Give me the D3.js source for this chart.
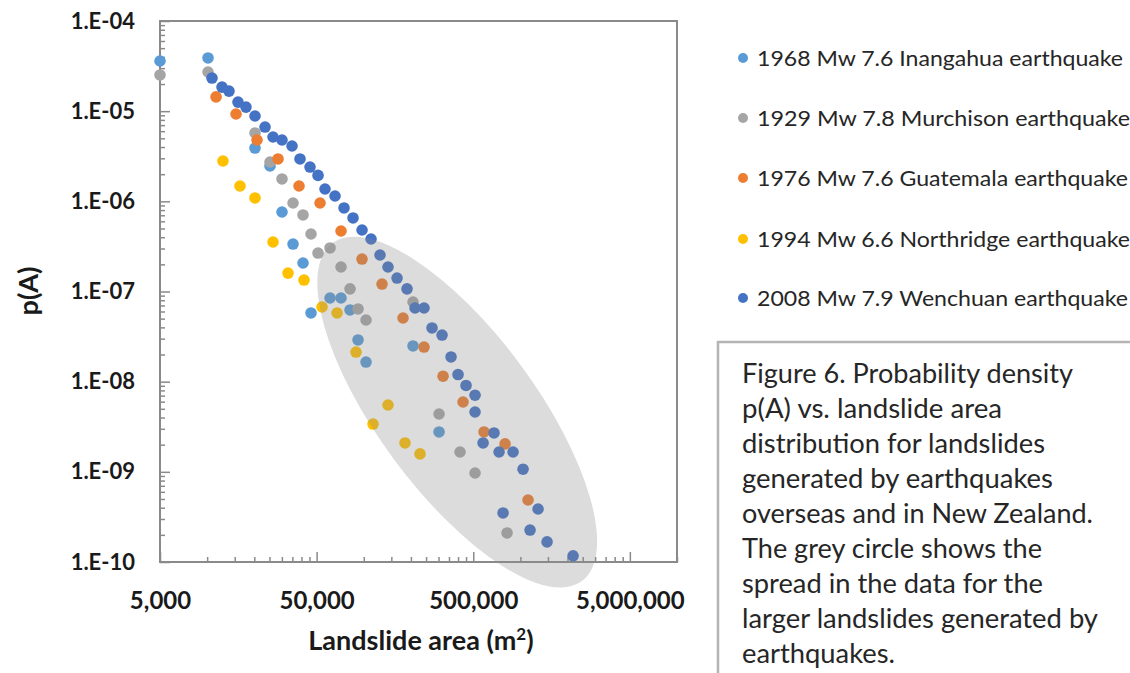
<!DOCTYPE html>
<html>
<head>
<meta charset="utf-8">
<script src="https://cdn.jsdelivr.net/npm/d3@7"></script>
<style>
  body { margin: 0; background: #fff; }
  text { font-family: Lato, "Open Sans", sans-serif; }
</style>
</head>
<body>
<svg id="chart" width="1130" height="673"></svg>
<script>
// series, in drawing order (last one on top)
const seriesNames = [
  "1968 Mw 7.6 Inangahua earthquake",
  "1929 Mw 7.8 Murchison earthquake",
  "1976 Mw 7.6 Guatemala earthquake",
  "1994 Mw 6.6 Northridge earthquake",
  "2008 Mw 7.9 Wenchuan earthquake"
];
const seriesColors = ["#5b9bd5", "#a5a5a5", "#ed7d31", "#ffc000", "#4472c4"];

const inangahuaArea = [5000, 10130, 20210, 25200, 30060, 35350, 40940, 46050, 60900, 71580, 81720, 91910, 103400, 206300, 302500];
const inangahuaP    = [3.6e-5, 3.89e-5, 3.9e-6, 2.47e-6, 7.62e-7, 3.36e-7, 2.07e-7, 5.78e-8, 8.47e-8, 8.47e-8, 6.24e-8, 2.9e-8, 1.65e-8, 2.49e-8, 2.77e-9];

const murchisonArea = [5000, 10130, 20210, 25200, 30060, 35350, 40940, 46050, 51050, 60900, 71580, 81720, 91910, 103400, 206300, 302500, 411800, 513400, 821900];
const murchisonP    = [2.52e-5, 2.72e-5, 5.73e-6, 2.73e-6, 1.77e-6, 9.58e-7, 7.06e-7, 4.34e-7, 2.67e-7, 3.04e-7, 1.87e-7, 1.07e-7, 6.4e-8, 4.83e-8, 7.65e-8, 4.38e-9, 1.66e-9, 9.71e-10, 2.1e-10];

const guatemalaArea = [11400, 15290, 20820, 28350, 38600, 52580, 71580, 97480, 130800, 178100, 242500, 320800, 430400, 586100, 798300, 1119000];
const guatemalaP    = [1.44e-5, 9.3e-6, 4.79e-6, 2.95e-6, 1.48e-6, 9.58e-7, 4.69e-7, 2.29e-7, 1.21e-7, 5.08e-8, 2.42e-8, 1.15e-8, 5.95e-9, 2.77e-9, 2.04e-9, 4.87e-10];

const northridgeArea = [12620, 16210, 20210, 26340, 32840, 41540, 54150, 67510, 89240, 114600, 142800, 183400, 228700];
const northridgeP    = [2.8e-6, 1.48e-6, 1.09e-6, 3.54e-7, 1.6e-7, 1.34e-7, 6.73e-8, 5.78e-8, 2.13e-8, 3.39e-9, 5.51e-9, 2.09e-9, 1.58e-9];

const wenchuanArea = [10740, 12440, 13790, 15740, 17700, 20210, 23420, 26340, 30060, 34830, 39170, 45380, 51050, 56580, 65550, 74820, 85400, 97480, 111300, 127000, 142800, 163100, 188900, 212500, 242500, 272800, 316100, 360800, 399900, 449800, 513400, 513400, 678800, 577800, 730800, 897900, 1040000, 1297000, 775100, 1153000, 1480000, 2170000];
const wenchuanP    = [2.33e-5, 1.85e-5, 1.67e-5, 1.26e-5, 1.11e-5, 8.84e-6, 6.67e-6, 5.17e-6, 4.79e-6, 4.11e-6, 2.95e-6, 2.4e-6, 1.94e-6, 1.37e-6, 1.146e-6, 8.44e-7, 6.54e-7, 4.81e-7, 3.82e-7, 2.54e-7, 1.87e-7, 1.41e-7, 1.07e-7, 6.56e-8, 6.56e-8, 3.94e-8, 3.29e-8, 1.88e-8, 1.2e-8, 9.08e-9, 7.08e-9, 4.61e-9, 2.7e-9, 2.09e-9, 1.66e-9, 1.66e-9, 1.07e-9, 3.87e-10, 3.5e-10, 2.26e-10, 1.67e-10, 1.17e-10];

const seriesArea = [inangahuaArea, murchisonArea, guatemalaArea, northridgeArea, wenchuanArea];
const seriesP    = [inangahuaP, murchisonP, guatemalaP, northridgeP, wenchuanP];

const xTickValues = [5000, 50000, 500000, 5000000];
const yTickValues = [1e-10, 1e-9, 1e-8, 1e-7, 1e-6, 1e-5, 1e-4];

// grey "spread" ellipse, centre in data units
const spreadCentre = [395000, 4.6e-9];

const captionLines = [
  "Figure 6. Probability density",
  "p(A) vs. landslide area",
  "distribution for landslides",
  "generated by earthquakes",
  "overseas and in New Zealand.",
  "The grey circle shows the",
  "spread in the data for the",
  "larger landslides generated by",
  "earthquakes."
];

const svg = d3.select("#chart");
const plotLeft = 160, plotRight = 677, plotTop = 21, plotBottom = 562;
const axisColor = "#8a8a8a";

const xScale = d3.scaleLog().domain([5000, 1e7]).range([plotLeft, plotRight]);
const yScale = d3.scaleLog().domain([1e-10, 1e-4]).range([plotBottom, plotTop]);

let xMinor = [];
for (const t of xTickValues) {
  for (let m = 2; m <= 9; m++) if (t * m <= 1e7) xMinor.push(t * m);
}
let yMinor = [];
for (const t of yTickValues.slice(0, -1)) {
  for (let m = 2; m <= 9; m++) yMinor.push(t * m);
}

const fmtY = d => "1.E-" + String(Math.round(-Math.log10(d))).padStart(2, "0");

// axes (ticks point inwards)
const xAxisG = svg.append("g")
  .attr("transform", "translate(0," + plotBottom + ")")
  .call(d3.axisBottom(xScale).tickValues(xTickValues).tickFormat(d3.format(","))
    .tickSizeInner(-10).tickSizeOuter(0).tickPadding(30));
svg.append("g")
  .attr("transform", "translate(0," + plotBottom + ")")
  .call(d3.axisBottom(xScale).tickValues(xMinor).tickFormat("")
    .tickSizeInner(-5).tickSizeOuter(0));

svg.append("g")
  .attr("transform", "translate(" + plotLeft + ",0)")
  .call(d3.axisLeft(yScale).tickValues(yTickValues).tickFormat(fmtY)
    .tickSizeInner(-10).tickSizeOuter(0).tickPadding(25));
svg.append("g")
  .attr("transform", "translate(" + plotLeft + ",0)")
  .call(d3.axisLeft(yScale).tickValues(yMinor).tickFormat("")
    .tickSizeInner(-5).tickSizeOuter(0));

svg.selectAll(".domain").remove();
svg.selectAll(".tick line").attr("stroke", axisColor).attr("stroke-width", 1.5);
svg.selectAll(".tick text")
  .attr("fill", "#1a1a1a")
  .style("font-size", "22px")
  .style("font-weight", "bold");
xAxisG.selectAll(".tick text").style("font-size", "24px");

svg.append("rect")
  .attr("x", plotLeft).attr("y", plotTop)
  .attr("width", plotRight - plotLeft).attr("height", plotBottom - plotTop)
  .attr("fill", "none")
  .attr("stroke", axisColor)
  .attr("stroke-width", 2);

// points
seriesArea.forEach(function(areas, i) {
  svg.append("g")
    .selectAll("circle")
    .data(areas.map((a, j) => [a, seriesP[i][j]]))
    .enter()
    .append("circle")
    .attr("cx", d => xScale(d[0]))
    .attr("cy", d => yScale(d[1]))
    .attr("r", 5.8)
    .attr("fill", seriesColors[i]);
});

// spread ellipse drawn over the points, semi transparent
svg.append("ellipse")
  .attr("transform", "translate(" + xScale(spreadCentre[0]) + "," + yScale(spreadCentre[1]) + ") rotate(53.6)")
  .attr("rx", 210)
  .attr("ry", 79)
  .attr("fill", "#8a8a8a")
  .attr("opacity", 0.3);

// axis titles
svg.append("text")
  .attr("transform", "translate(38,291) rotate(-90)")
  .attr("text-anchor", "middle")
  .style("font-size", "27px")
  .style("font-weight", "bold")
  .attr("fill", "#1a1a1a")
  .text("p(A)");

const xTitle = svg.append("text")
  .attr("x", 421).attr("y", 650)
  .attr("text-anchor", "middle")
  .style("font-size", "27px")
  .style("font-weight", "bold")
  .attr("fill", "#1a1a1a");
xTitle.append("tspan").text("Landslide area (m");
xTitle.append("tspan").attr("dy", -10).style("font-size", "17px").text("2");
xTitle.append("tspan").attr("dy", 10).text(")");

// legend
const legendY = [58, 118, 178, 239, 298];
const legendWidth = [366, 373, 371, 373, 371];
seriesNames.forEach(function(name, i) {
  svg.append("circle")
    .attr("cx", 743).attr("cy", legendY[i]).attr("r", 5)
    .attr("fill", seriesColors[i]);
  svg.append("text")
    .attr("x", 757).attr("y", legendY[i]).attr("dy", "0.36em")
    .attr("textLength", legendWidth[i])
    .attr("lengthAdjust", "spacingAndGlyphs")
    .style("font-size", "21px")
    .attr("fill", "#262626")
    .text(name);
});

// caption box
svg.append("rect")
  .attr("x", 718).attr("y", 342)
  .attr("width", 500).attr("height", 400)
  .attr("fill", "#fff")
  .attr("stroke", "#b4b4b4")
  .attr("stroke-width", 2.5);

const captionEnd = [1073, 1002, 1045, 1053, 1093, 1042, 1043, 1098, 895];
captionLines.forEach(function(line, i) {
  svg.append("text")
    .attr("x", 742).attr("y", 383 + 35 * i)
    .attr("textLength", captionEnd[i] - 742)
    .attr("lengthAdjust", "spacingAndGlyphs")
    .style("font-size", "26px")
    .attr("fill", "#262626")
    .text(line);
});
</script>
</body>
</html>
